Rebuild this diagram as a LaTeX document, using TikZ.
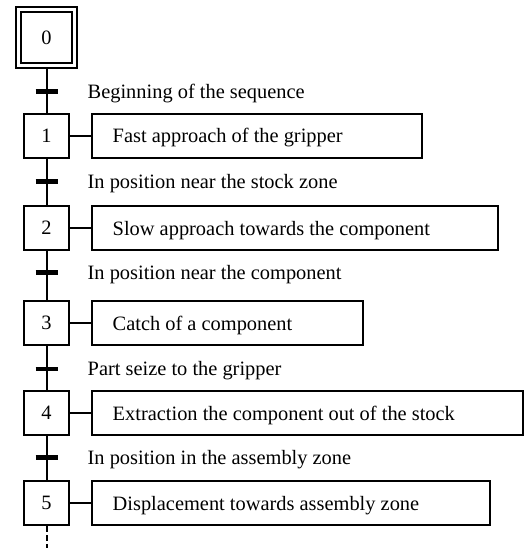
\documentclass[tikz,border=0pt]{standalone}
\usepackage{fontspec}
\setmainfont{Liberation Serif}
\begin{document}
\begin{tikzpicture}[x=1pt,y=-1pt,
  every node/.style={font=\fontsize{20.4}{24}\selectfont},
  stepbox/.style={draw, line width=2pt, minimum width=45pt, minimum height=44pt, inner sep=0pt},
  actbox/.style={draw, line width=2pt, anchor=west, minimum height=44pt, inner xsep=21pt, inner ysep=0pt, text height=19pt, text depth=5pt},
  link/.style={line width=2pt},
  hlink/.style={line width=1.5pt},
  bar/.style={line width=4.5pt},
  trtext/.style={anchor=base west, inner sep=0pt}
]
\useasboundingbox (0,0) rectangle (530,548);
% step 0
\node[stepbox, minimum width=61pt, minimum height=61pt] (s0) at (46.5,37.5) {};
\node[stepbox, minimum width=51pt, minimum height=51pt] (s0i) at (s0.center) {0};
% steps
\node[stepbox] (s1) at (46.5,136) {1};
\node[stepbox] (s2) at (46.5,228) {2};
\node[stepbox] (s3) at (46.5,323) {3};
\node[stepbox] (s4) at (46.5,413) {4};
\node[stepbox] (s5) at (46.5,503) {5};
% actions
\node[actbox] (a1) at (90.7,136) {\makebox[288pt][l]{Fast approach of the gripper}};
\node[actbox] (a2) at (90.7,228) {\makebox[364.6pt][l]{Slow approach towards the component}};
\node[actbox] (a3) at (90.7,323) {\makebox[229pt][l]{Catch of a component}};
\node[actbox] (a4) at (90.7,413) {\makebox[389pt][l]{Extraction the component out of the stock}};
\node[actbox] (a5) at (90.7,503) {\makebox[356.3pt][l]{Displacement towards assembly zone}};
% step-action links
\foreach \i in {1,...,5} \draw[hlink] (s\i.east) -- (a\i.west);
% transitions
\coordinate (t1) at (46.5,91.7);
\coordinate (t2) at (46.5,181.7);
\coordinate (t3) at (46.5,272.7);
\coordinate (t4) at (46.5,369);
\coordinate (t5) at (46.5,457.7);
\draw[link] (s0.south) -- (s1.north);
\draw[link] (s1.south) -- (s2.north);
\draw[link] (s2.south) -- (s3.north);
\draw[link] (s3.south) -- (s4.north);
\draw[link] (s4.south) -- (s5.north);
\foreach \i in {1,...,5} \draw[bar] ([xshift=-11pt]t\i) -- ([xshift=11pt]t\i);
\node[trtext] (l1) at (87.5,98.2) {Beginning of the sequence};
\node[trtext] (l2) at (87.5,188.2) {In position near the stock zone};
\node[trtext] (l3) at (87.5,279.2) {In position near the component};
\node[trtext] (l4) at (87.5,375.5) {Part seize to the gripper};
\node[trtext] (l5) at (87.5,464.2) {In position in the assembly zone};
% continuation
\coordinate (end) at (46.5,548);
\draw[link, dash pattern=on 6pt off 3pt] (s5.south) -- (end);
\end{tikzpicture}
\end{document}
